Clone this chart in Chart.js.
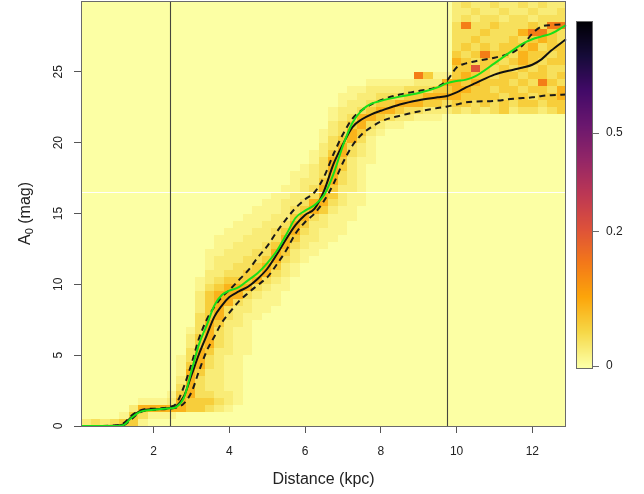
<!DOCTYPE html>
<html>
<head>
<meta charset="utf-8">
<script src="https://cdn.jsdelivr.net/npm/chart.js@4/dist/chart.umd.min.js"></script>
<style>
  html, body { margin: 0; padding: 0; background: #ffffff; }
  #wrap { width: 644px; height: 494px; }
</style>
</head>
<body>
<div id="wrap"><canvas id="c" width="644" height="494"></canvas></div>
<script>
// ---------------------------------------------------------------------------
// Data
// ---------------------------------------------------------------------------
const distTicks = [2, 4, 6, 8, 10, 12];
const a0Ticks = [0, 5, 10, 15, 20, 25];
const colorbarTicks = [0, 0.2, 0.5];
const colorbarLabels = ['0', '0.2', '0.5'];
const markerDist = [2.44, 9.75];

// Extinction profiles along the line of sight
const lineDist = [0.09, 0.5, 1.0, 1.2, 1.4, 1.6, 1.8, 2.0, 2.2, 2.44,
                  2.6, 2.8, 3.0, 3.2, 3.4, 3.6, 3.8, 4.0, 4.25, 4.5,
                  4.75, 5.0, 5.25, 5.5, 5.75, 6.0, 6.25, 6.5, 6.75, 7.0,
                  7.25, 7.5, 7.75, 8.0, 8.5, 9.0, 9.5, 9.75, 10.0, 10.25,
                  10.5, 11.0, 11.5, 11.75, 12.0, 12.25, 12.5, 12.89];
const medianA0 = [0, 0, 0.02, 0.12, 0.6, 1.0, 1.15, 1.18, 1.2, 1.28,
                  1.4, 2.1, 3.6, 5.1, 6.4, 7.7, 8.5, 9.1, 9.5, 9.85,
                  10.4, 11.1, 12.1, 13.2, 14.2, 14.9, 15.35, 16.6, 18.5, 19.9,
                  21.1, 21.65, 22.0, 22.25, 22.7, 23.0, 23.2, 23.3, 23.55, 23.9,
                  24.2, 24.8, 25.15, 25.3, 25.5, 25.9, 26.5, 27.3];
const upperA0 = [0, 0, 0.05, 0.18, 0.7, 1.05, 1.2, 1.22, 1.25, 1.35,
                 1.6, 2.8, 4.4, 6.2, 7.5, 8.4, 9.1, 9.6, 10.3, 11.0,
                 11.9, 12.7, 13.7, 14.6, 15.4, 16.0, 16.5, 17.6, 19.2, 20.6,
                 21.7, 22.3, 22.7, 23.0, 23.4, 23.65, 23.95, 24.4, 25.3, 25.6,
                 25.75, 26.0, 26.4, 26.9, 27.7, 28.2, 28.3, 28.35];
const lowerA0 = [0, 0, 0, 0.05, 0.45, 0.9, 1.1, 1.15, 1.18, 1.22,
                 1.3, 1.6, 2.4, 3.9, 5.3, 6.3, 7.3, 8.0, 8.8, 9.4,
                 9.95, 10.5, 11.4, 12.4, 13.6, 14.4, 15.0, 15.9, 17.1, 18.6,
                 19.8, 20.6, 21.1, 21.5, 21.9, 22.2, 22.45, 22.55, 22.7, 22.85,
                 22.9, 22.95, 23.1, 23.15, 23.2, 23.3, 23.35, 23.4];
const greenA0 = [0, 0, 0, 0.06, 0.55, 0.95, 1.1, 1.15, 1.2, 1.25,
                 1.35, 2.0, 3.9, 5.8, 7.1, 8.5, 9.25, 9.55, 9.8, 10.3,
                 10.8, 11.5, 12.35, 13.5, 14.7, 15.2, 15.6, 16.3, 17.8, 19.8,
                 21.4, 22.3, 22.75, 22.95, 23.25, 23.5, 23.9, 24.2, 24.35, 24.45,
                 24.7, 25.6, 26.55, 27.0, 27.3, 27.5, 27.7, 28.3];

// Probability density: level code per cell -> density value
const levelDensity = [0, 0.002, 0.006, 0.013, 0.027, 0.05, 0.12, 0.2];
// Each row: [A0 lower edge, first distance bin, level codes for consecutive bins]
const densityRows = [
  [0.0, 0, "2323441"],
  [0.5, 4, "143111"],
  [1.0, 5, "25555544321"],
  [1.5, 6, "11125444321"],
  [2.0, 9, "14533221"],
  [2.5, 10, "3532211"],
  [3.0, 10, "2532211"],
  [3.5, 10, "1542211"],
  [4.0, 10, "1453211"],
  [4.5, 10, "1353211"],
  [5.0, 11, "3542211"],
  [5.5, 11, "2453211"],
  [6.0, 11, "2453211"],
  [6.5, 11, "1353211"],
  [7.0, 12, "354221"],
  [7.5, 12, "3453211"],
  [8.0, 12, "24532211"],
  [8.5, 12, "245532111"],
  [9.0, 12, "245553211"],
  [9.5, 12, "1345553211"],
  [10.0, 12, "1234445321"],
  [10.5, 13, "2233445321"],
  [11.0, 13, "1223345421"],
  [11.5, 13, "12223345321"],
  [12.0, 13, "112223354211"],
  [12.5, 14, "112223453211"],
  [13.0, 14, "1112223542211"],
  [13.5, 15, "1112234532111"],
  [14.0, 16, "111223542211"],
  [14.5, 17, "111224532111"],
  [15.0, 18, "11123454211"],
  [15.5, 19, "11223553211"],
  [16.0, 20, "1122354211"],
  [16.5, 21, "112354221"],
  [17.0, 22, "12245321"],
  [17.5, 22, "11235321"],
  [18.0, 23, "1235421"],
  [18.5, 24, "1354211"],
  [19.0, 24, "1245321"],
  [19.5, 25, "235321"],
  [20.0, 25, "134531"],
  [20.5, 25, "1235421"],
  [21.0, 26, "23453211"],
  [21.5, 26, "123554322111"],
  [22.0, 26, "1223455433222" + "323234233234"],
  [22.5, 27, "122344555443" + "443434344344"],
  [23.0, 27, "112233344555" + "544443443445"],
  [23.5, 28, "11222233344" + "554434434435"],
  [24.0, 30, "111112225" + "545444343643"],
  [24.5, 35, "6411" + "454434434434"],
  [25.0, 39, "447434343433"],
  [25.5, 39, "543443454344"],
  [26.0, 39, "434644354434"],
  [26.5, 39, "343434445344"],
  [27.0, 39, "334333434543"],
  [27.5, 39, "333433356643"],
  [28.0, 39, "363343334366"],
  [28.5, 39, "232332332333"],
  [29.0, 39, "223223223223"],
  [29.5, 39, "232232232322"]
];

// ---------------------------------------------------------------------------
// Grid geometry and styling
// ---------------------------------------------------------------------------
const DIST_MIN = 0.08, DIST_MAX = 12.89;
const BIN_DIST = 0.2512;   // width of a distance bin (kpc)
const BIN_A0 = 0.5;        // height of an extinction bin (mag)
const SEAM_A0 = 16.55;     // seam between the two raster tiles of the density image
const FONT = '"Liberation Sans", Arial, Helvetica, sans-serif';
const TEXT = '#222222';

// reversed inferno palette, 0 = pale yellow, 1 = black
const PALETTE = ['#fcffa4', '#f6d746', '#fca50a', '#f37819', '#dd513a', '#bc3754',
                 '#932667', '#6a176e', '#420a68', '#160b39', '#000004'];
const CB_MAX = 0.958, CB_POW = 0.598;

function hexRgb(h) {
  return [parseInt(h.slice(1, 3), 16), parseInt(h.slice(3, 5), 16), parseInt(h.slice(5, 7), 16)];
}
const PAL_RGB = PALETTE.map(hexRgb);
function paletteAt(f) {
  f = Math.max(0, Math.min(1, f));
  const s = f * (PAL_RGB.length - 1);
  const i = Math.min(PAL_RGB.length - 2, Math.floor(s));
  const t = s - i;
  const a = PAL_RGB[i], b = PAL_RGB[i + 1];
  return 'rgb(' + Math.round(a[0] + (b[0] - a[0]) * t) + ',' +
                  Math.round(a[1] + (b[1] - a[1]) * t) + ',' +
                  Math.round(a[2] + (b[2] - a[2]) * t) + ')';
}
function colourScale(v) { return Math.pow(Math.max(v, 0) / CB_MAX, CB_POW); }
function colourFor(v) { return paletteAt(colourScale(v)); }

function pairs(xs, ys) { return xs.map((x, i) => ({ x: x, y: ys[i] })); }

// ---------------------------------------------------------------------------
// Density image, marker lines and seam (drawn under the profiles)
// ---------------------------------------------------------------------------
const densityPlugin = {
  id: 'densityImage',
  beforeDatasetsDraw(chart) {
    const { ctx, chartArea: a, scales } = chart;
    const xs = scales.x, ys = scales.y;
    ctx.save();
    ctx.beginPath();
    ctx.rect(a.left, a.top, a.right - a.left, a.bottom - a.top);
    ctx.clip();
    ctx.fillStyle = colourFor(0);
    ctx.fillRect(a.left, a.top, a.right - a.left, a.bottom - a.top);

    densityRows.forEach(([a0Low, firstBin, codes]) => {
      const y0 = Math.round(ys.getPixelForValue(a0Low));
      const y1 = Math.round(ys.getPixelForValue(a0Low + BIN_A0));
      for (let k = 0; k < codes.length; k++) {
        const lvl = +codes[k];
        if (!lvl) continue;
        const d0 = DIST_MIN + (firstBin + k) * BIN_DIST;
        const x0 = Math.round(xs.getPixelForValue(d0));
        const x1 = Math.round(xs.getPixelForValue(d0 + BIN_DIST));
        ctx.fillStyle = colourFor(levelDensity[lvl]);
        ctx.fillRect(x0, y1, x1 - x0, y0 - y1);
      }
    });

    // seam line
    const ys16 = Math.round(ys.getPixelForValue(SEAM_A0)) + 0.5;
    ctx.strokeStyle = 'rgba(255,255,255,0.95)';
    ctx.lineWidth = 1;
    ctx.beginPath();
    ctx.moveTo(a.left, ys16);
    ctx.lineTo(a.right, ys16);
    ctx.stroke();

    // vertical markers
    ctx.strokeStyle = 'rgba(50,50,50,0.9)';
    ctx.lineWidth = 1.1;
    markerDist.forEach(d => {
      const px = Math.round(xs.getPixelForValue(d)) + 0.5;
      ctx.beginPath();
      ctx.moveTo(px, a.top);
      ctx.lineTo(px, a.bottom);
      ctx.stroke();
    });
    ctx.restore();
  }
};

// ---------------------------------------------------------------------------
// Frame, rotated y labels, axis titles and colour bar
// ---------------------------------------------------------------------------
const decorPlugin = {
  id: 'decor',
  afterDatasetsDraw(chart) {
    const { ctx, chartArea: a, scales } = chart;
    const ys = scales.y;
    ctx.save();

    // plot frame
    ctx.strokeStyle = '#6a6a6a';
    ctx.lineWidth = 1;
    ctx.strokeRect(a.left + 0.5, a.top + 0.5, a.right - a.left - 1, a.bottom - a.top);

    // y tick labels, read bottom to top
    ctx.fillStyle = TEXT;
    ctx.font = '12px ' + FONT;
    ctx.textAlign = 'center';
    ctx.textBaseline = 'middle';
    a0Ticks.forEach(v => {
      ctx.save();
      ctx.translate(59, ys.getPixelForValue(v));
      ctx.rotate(-Math.PI / 2);
      ctx.fillText(String(v), 0, 0);
      ctx.restore();
    });

    // y title with subscript
    const midY = (a.top + a.bottom) / 2;
    ctx.save();
    ctx.translate(26, midY);
    ctx.rotate(-Math.PI / 2);
    ctx.textBaseline = 'middle';
    ctx.textAlign = 'left';
    const big = '16px ' + FONT, small = '11px ' + FONT;
    ctx.font = big; const wA = ctx.measureText('A').width;
    ctx.font = small; const w0 = ctx.measureText('0').width;
    ctx.font = big; const wRest = ctx.measureText(' (mag)').width;
    let tx = -(wA + w0 + wRest) / 2;
    ctx.font = big; ctx.fillText('A', tx, 0); tx += wA;
    ctx.font = small; ctx.fillText('0', tx, 4); tx += w0;
    ctx.font = big; ctx.fillText(' (mag)', tx, 0);
    ctx.restore();

    // x title
    ctx.font = '16px ' + FONT;
    ctx.textAlign = 'center';
    ctx.textBaseline = 'middle';
    ctx.fillText('Distance (kpc)', (a.left + a.right) / 2, 480);

    // colour bar
    const cbL = 577, cbW = 15, cbTop = 22, cbZero = 366, cbBot = 368;
    const cbH = cbZero - cbTop;
    for (let py = cbTop; py < cbBot; py++) {
      ctx.fillStyle = paletteAt((cbZero - (py + 0.5)) / cbH);
      ctx.fillRect(cbL, py, cbW, 1);
    }
    ctx.strokeStyle = '#6a6a6a';
    ctx.strokeRect(cbL - 0.5, cbTop - 0.5, cbW + 1, cbBot - cbTop + 1);
    ctx.fillStyle = TEXT;
    ctx.font = '12px ' + FONT;
    ctx.textAlign = 'left';
    ctx.textBaseline = 'middle';
    colorbarTicks.forEach((v, i) => {
      const py = cbZero - cbH * colourScale(v);
      ctx.beginPath();
      ctx.moveTo(cbL + cbW + 0.5, Math.round(py) + 0.5);
      ctx.lineTo(cbL + cbW + 7, Math.round(py) + 0.5);
      ctx.stroke();
      ctx.fillText(colorbarLabels[i], 606, py);
    });
    ctx.restore();
  }
};

// ---------------------------------------------------------------------------
// Chart
// ---------------------------------------------------------------------------
const lineBase = {
  pointRadius: 0,
  borderWidth: 2,
  fill: false,
  cubicInterpolationMode: 'monotone',
  clip: 2
};

new Chart(document.getElementById('c'), {
  type: 'line',
  data: {
    datasets: [
      Object.assign({ label: 'green', data: pairs(lineDist, greenA0), borderColor: '#19df19' }, lineBase),
      Object.assign({ label: 'median', data: pairs(lineDist, medianA0), borderColor: '#111111' }, lineBase),
      Object.assign({ label: 'upper', data: pairs(lineDist, upperA0), borderColor: '#1a1a1a', borderDash: [6, 4.5] }, lineBase),
      Object.assign({ label: 'lower', data: pairs(lineDist, lowerA0), borderColor: '#1a1a1a', borderDash: [6, 4.5] }, lineBase)
    ]
  },
  options: {
    responsive: false,
    animation: false,
    devicePixelRatio: 1,
    layout: { padding: { left: 0, right: 78, top: 1, bottom: 0 } },
    plugins: { legend: { display: false }, tooltip: { enabled: false } },
    scales: {
      x: {
        type: 'linear',
        min: DIST_MIN,
        max: DIST_MAX,
        afterBuildTicks: s => { s.ticks = distTicks.map(v => ({ value: v })); },
        afterFit: s => { s.height = 68; },
        grid: { display: true, drawOnChartArea: false, drawTicks: true, tickLength: 7, tickColor: '#555555', tickWidth: 1 },
        border: { display: false },
        ticks: { font: { family: FONT, size: 12 }, color: TEXT, padding: 11, maxRotation: 0, autoSkip: false }
      },
      y: {
        type: 'linear',
        min: 0,
        max: 30,
        afterBuildTicks: s => { s.ticks = a0Ticks.map(v => ({ value: v })); },
        afterFit: s => { s.width = 81; },
        grid: { display: true, drawOnChartArea: false, drawTicks: true, tickLength: 7, tickColor: '#555555', tickWidth: 1 },
        border: { display: false },
        ticks: { display: false }
      }
    }
  },
  plugins: [densityPlugin, decorPlugin]
});
</script>
</body>
</html>
